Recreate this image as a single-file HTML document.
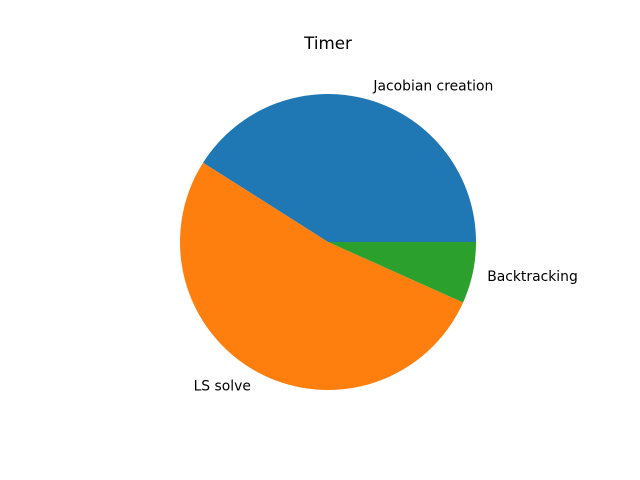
<!DOCTYPE html>
<html><head><meta charset="utf-8"><style>
body{margin:0;background:#fff}
svg{display:block;font-family:"DejaVu Sans","Liberation Sans",sans-serif}
</style></head><body>
<svg id="c" width="640" height="480" xmlns="http://www.w3.org/2000/svg">
<text x="328" y="49" font-size="16.7" text-anchor="middle" fill="#000">Timer</text>
<g id="slices"></g>
</svg>
<script>
const categories = ["Jacobian creation", "LS solve", "Backtracking"];
const values = [41.0, 52.3, 6.7];
const colors = ["#1f77b4", "#ff7f0e", "#2ca02c"];
const cx = 328, cy = 242, r = 148;
const ns = "http://www.w3.org/2000/svg";
const g = document.getElementById('slices');
const total = values.reduce((a, b) => a + b, 0);
let a0 = 0;
values.forEach((v, i) => {
  const a1 = a0 + v / total * 2 * Math.PI;
  const x0 = cx + r * Math.cos(a0), y0 = cy - r * Math.sin(a0);
  const x1 = cx + r * Math.cos(a1), y1 = cy - r * Math.sin(a1);
  const large = (a1 - a0) > Math.PI ? 1 : 0;
  const p = document.createElementNS(ns, 'path');
  p.setAttribute('d', `M${cx},${cy} L${x0},${y0} A${r},${r} 0 ${large} 0 ${x1},${y1} Z`);
  p.setAttribute('fill', colors[i]);
  
  
  g.appendChild(p);
  const am = (a0 + a1) / 2;
  const lx = cx + 1.1 * r * Math.cos(am), ly = cy - 1.1 * r * Math.sin(am);
  const t = document.createElementNS(ns, 'text');
  t.setAttribute('x', lx);
  t.setAttribute('y', ly + 5);
  t.setAttribute('font-size', '13.9');
  t.setAttribute('text-anchor', Math.cos(am) >= 0 ? 'start' : 'end');
  t.textContent = categories[i];
  
  
  g.appendChild(t);
  a0 = a1;
});
</script>
</body></html>
